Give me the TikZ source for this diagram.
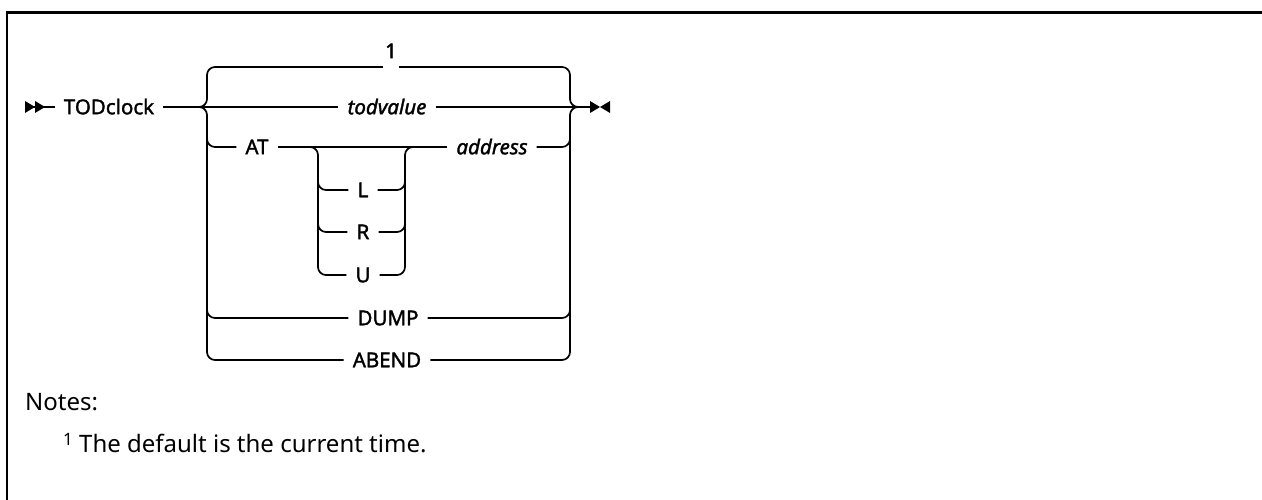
\documentclass[tikz,border=0pt]{standalone}
\usepackage{fontspec}
\setmainfont{Noto Sans}
\newfontfamily\railfont{Noto Sans}[FakeBold=1.6]
\usetikzlibrary{arrows.meta,positioning,calc}

\begin{document}
\begin{tikzpicture}[
  x=1pt, y=-1pt,
  rail/.style={line width=1.7pt, rounded corners=8pt},
  kw/.style={font=\railfont\fontsize{20.5}{20.5}\selectfont, inner xsep=9pt, inner ysep=0pt,
    text height=14.5pt, text depth=0pt},
  var/.style={kw, font=\railfont\fontsize{20.5}{20.5}\selectfont\itshape},
  note/.style={font=\fontsize{24}{24}\selectfont, anchor=west, inner sep=0pt},
  frame/.style={line width=2.5pt}
]
\useasboundingbox (0,0) rectangle (1262,500);
\draw[frame] (7,500) -- (7,12.5) -- (1262,12.5);

% labels
\node[kw] (cmd) at (109,107) {TODclock};
\node[var] (todval) at (387,107) {todvalue};
\node[kw, inner xsep=2pt] (one) at (391,51) {1};
\node[kw] (at) at (257,147) {AT};
\node[var] (addr) at (492,147) {address};
\node[kw] (optL) at (363,190) {L};
\node[kw] (optR) at (363,232) {R};
\node[kw] (optU) at (363,275) {U};
\node[kw] (dump) at (388,318) {DUMP};
\node[kw] (abend) at (387,360) {ABEND};

\node[note] (notes) at (25,402) {Notes:};
\node[note] (foot) at (63,443) {\raisebox{7pt}{\fontsize{17}{17}\selectfont 1} The default is the current time.};

% brackets
\coordinate (start) at (25,107);
\coordinate (lsplit) at (197,107);
\coordinate (lbr) at (207,67);
\coordinate (rbr) at (570,67);
\coordinate (rjoin) at (580,107);
\coordinate (stop) at (590,107);
\coordinate (ilb) at (318,147);
\coordinate (irb) at (405,147);

\fill (start) ++(0,-6) -- ++(10,6) -- ++(-10,6) -- cycle;
\fill (start) ++(10,-6) -- ++(10,6) -- ++(-10,6) -- cycle;
\fill (stop) ++(0,-6) -- ++(10,6) -- ++(-10,6) -- cycle;
\fill (stop) ++(20,-6) -- ++(-10,6) -- ++(10,6) -- cycle;

\draw[rail] (start) -- (cmd.west);
\draw[rail] (cmd.east) -- (todval.west);
\draw[rail] (todval.east) -- (stop);

\draw[rail] (lsplit) -| (lbr) -- (lbr -| one.west);
\draw[rail] (rbr -| one.east) -- (rbr) |- (rjoin);
\draw[rail] (lsplit) -| (lbr |- abend) -- (abend.west);
\draw[rail] (abend.east) -- (rbr |- abend) |- (rjoin);

\draw[rail] ($(lbr |- at)+(0,-15)$) |- (at.west);
\draw[rail] (at.east) -- (addr.west);
\draw[rail] (addr.east) -| ($(rbr |- addr)+(0,-15)$);
\draw[rail] ($(lbr |- dump)+(0,-15)$) |- (dump.west);
\draw[rail] (dump.east) -| ($(rbr |- dump)+(0,-15)$);

\draw[rail] ($(ilb)+(-8,0)$) -| (ilb |- optU) -- (optU.west);
\draw[rail] ($(ilb |- optL)+(0,-15)$) |- (optL.west);
\draw[rail] ($(ilb |- optR)+(0,-15)$) |- (optR.west);
\draw[rail] (optU.east) -| (irb) -- ++(8,0);
\draw[rail] (optL.east) -| ($(irb |- optL)+(0,-15)$);
\draw[rail] (optR.east) -| ($(irb |- optR)+(0,-15)$);

\end{tikzpicture}
\end{document}
